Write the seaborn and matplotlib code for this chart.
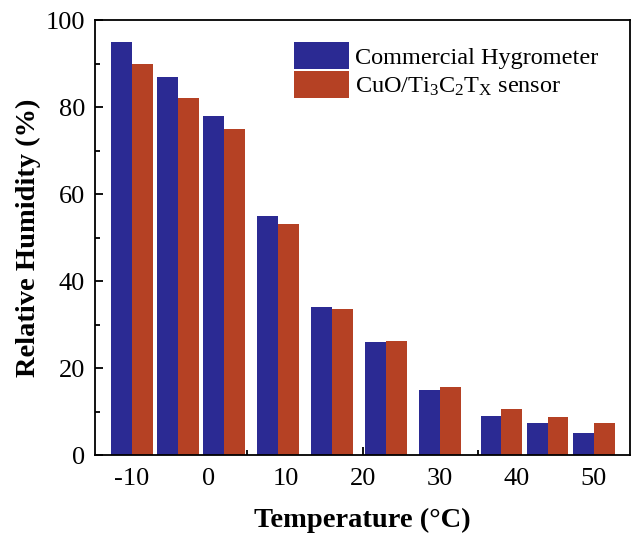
import pandas as pd
import seaborn as sns
import matplotlib.pyplot as plt
from matplotlib.ticker import MultipleLocator

# Values
temperatures = [-10, -4, 2, 9, 16, 23, 30, 38, 44, 50]
hygrometer = [95, 87, 78, 55, 34, 26, 15, 9, 7.3, 5.1]
sensor = [90, 82, 75, 53.2, 33.5, 26.3, 15.7, 10.5, 8.8, 7.3]
series_names = ["Commercial Hygrometer", r"CuO/Ti$_\mathrm{3}$C$_\mathrm{2}$T$_\mathrm{X}$ sensor"]
colors = ["#2b2a93", "#b54124"]

data = pd.DataFrame({
    "Temperature": temperatures * 2,
    "RH": hygrometer + sensor,
    "Series": [series_names[0]] * len(temperatures) + [series_names[1]] * len(temperatures),
})

sns.set_style("ticks")
plt.rcParams["font.family"] = ["Liberation Serif", "DejaVu Serif"]
plt.rcParams["mathtext.fontset"] = "custom"
plt.rcParams["mathtext.rm"] = "Liberation Serif"
plt.rcParams["mathtext.it"] = "Liberation Serif:italic"
plt.rcParams["mathtext.bf"] = "Liberation Serif:bold"
for key in ["text.color", "axes.labelcolor", "xtick.color", "ytick.color", "axes.edgecolor"]:
    plt.rcParams[key] = "black"

fig = plt.figure(figsize=(6.32, 5.35), dpi=100)
ax = fig.add_axes([0.150, 0.1495, 0.847, 0.813])

sns.barplot(
    data=data, x="Temperature", y="RH", hue="Series",
    native_scale=True, palette=colors, width=0.9,
    saturation=1, linewidth=0, ax=ax,
)

ax.set_xlim(-14.8, 54.7)
ax.set_ylim(0, 100)
ax.set_xticks([-10, 0, 10, 20, 30, 40, 50])
ax.set_xticklabels(["-10", "0", "10", "20", "30", "40", "50"])
ax.xaxis.set_minor_locator(MultipleLocator(5))
ax.yaxis.set_major_locator(MultipleLocator(20))
ax.yaxis.set_minor_locator(MultipleLocator(10))
ax.tick_params(which="both", direction="in", labelsize=19, width=1.3)
ax.tick_params(which="major", length=6)
ax.tick_params(which="minor", length=3.5)
ax.tick_params(axis="x", pad=9)
ax.tick_params(axis="y", pad=7)
for side in ["top", "right", "left", "bottom"]:
    ax.spines[side].set_visible(True)
    ax.spines[side].set_linewidth(1.3)

ax.set_xlabel("Temperature (°C)", fontsize=20.5, fontweight="bold", labelpad=13)
ax.set_ylabel("Relative Humidity (%)", fontsize=20.5, fontweight="bold", labelpad=3)

ax.legend(
    loc="upper left", frameon=False, fontsize=17.5,
    handlelength=2.25, handleheight=1.35, handletextpad=0.25,
    labelspacing=0.08, borderpad=0, borderaxespad=0,
    bbox_to_anchor=(0.372, 0.95),
)

plt.savefig("out.png", dpi=100)
plt.close()
